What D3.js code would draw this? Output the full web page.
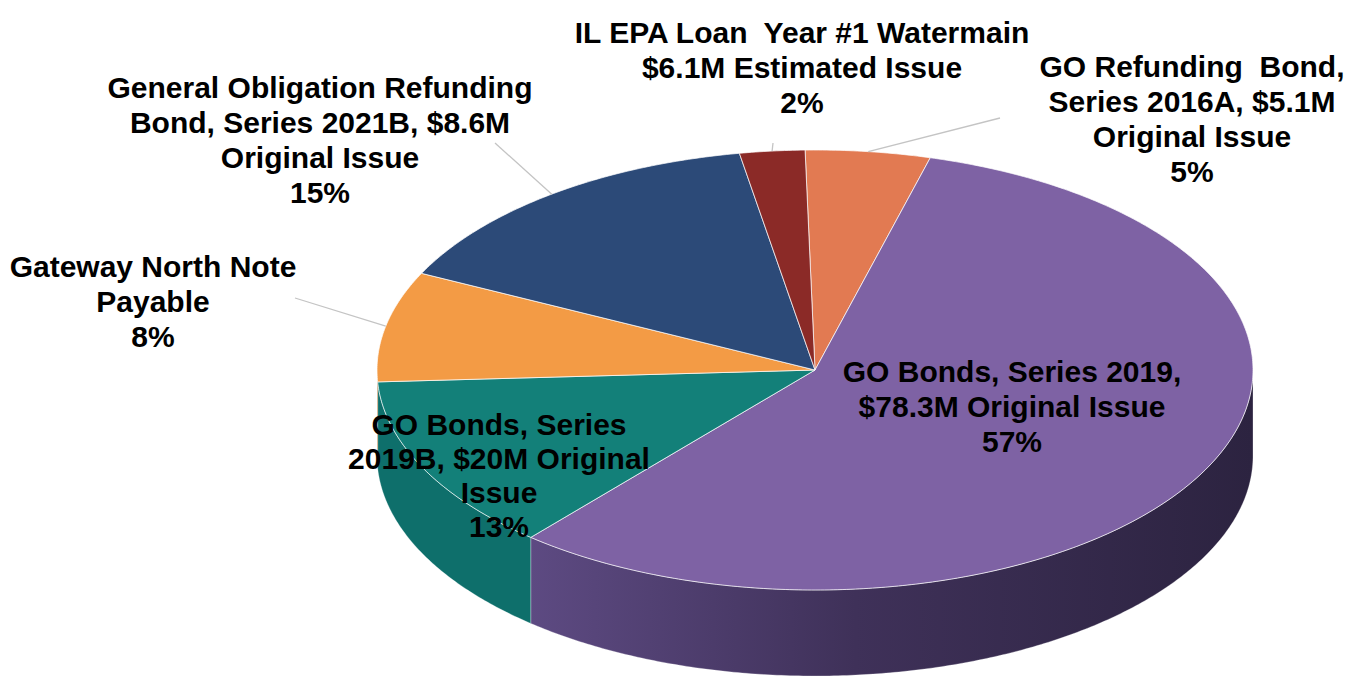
<!DOCTYPE html>
<html>
<head>
<meta charset="utf-8">
<script src="https://cdn.jsdelivr.net/npm/d3@7"></script>
<style>
  body { margin: 0; background: #fff; }
  svg { display: block; }
</style>
</head>
<body>
<svg id="debt-pie"></svg>
<script>
(function() {
    // --- 1. DATA ---
    const categories = [
        "GO Refunding Bond, Series 2016A",
        "GO Bonds, Series 2019",
        "GO Bonds, Series 2019B",
        "Gateway North Note Payable",
        "General Obligation Refunding Bond, Series 2021B",
        "IL EPA Loan Year #1 Watermain"
    ];
    // share of outstanding debt (%)
    const shares = [4.6, 57.0, 12.9, 8.1, 15.0, 2.4];
    const labelLines = [
        ["GO Refunding  Bond,", "Series 2016A, $5.1M", "Original Issue"],
        ["GO Bonds, Series 2019,", "$78.3M Original Issue"],
        ["GO Bonds, Series", "2019B, $20M Original", "Issue"],
        ["Gateway North Note", "Payable"],
        ["General Obligation Refunding", "Bond, Series 2021B, $8.6M", "Original Issue"],
        ["IL EPA Loan  Year #1 Watermain", "$6.1M Estimated Issue"]
    ];

    // --- 2. CONFIG ---
    const width = 1348, height = 679;
    const cx = 815, cy = 370, rx = 438, ry = 220, depth = 86;
    const startAngle = -1.3 * Math.PI / 180;

    const topColors  = ["#e27a52", "#7e62a4", "#138079", "#f39b45", "#2c4a78", "#8b2a27"];
    const sideColors = ["#b25a3a", "url(#purpleSide)", "#0e6f6b", "#c07430", "#1f3658", "#5e1b19"];

    // label anchor (centre x, first baseline), line step, leader start (or null)
    const labelLayout = [
        { x: 1192, y: 77,  step: 35, leader: [1000, 118] },
        { x: 1012, y: 382, step: 35, leader: null },
        { x: 499,  y: 435, step: 34, leader: null },
        { x: 153,  y: 277, step: 35, leader: [295, 298] },
        { x: 320,  y: 98,  step: 35, leader: [495, 143] },
        { x: 802,  y: 43,  step: 35, leader: [773, 143] }
    ];

    const svg = d3.select("#debt-pie")
        .attr("width", width)
        .attr("height", height)
        .attr("viewBox", `0 0 ${width} ${height}`);

    const total = d3.sum(shares);
    const data = shares.map((v, i) => ({ name: categories[i], value: v, i }));

    const arcs = d3.pie()
        .sort(null)
        .value(d => d.value)
        .startAngle(startAngle)
        .endAngle(startAngle + 2 * Math.PI)(data);

    // point on the tilted ellipse, angle clockwise from 12 o'clock
    const pt = (a, dy = 0) => [cx + rx * Math.sin(a), cy - ry * Math.cos(a) + dy];
    const arcPoints = (a0, a1, dy) => {
        const n = Math.max(2, Math.ceil((a1 - a0) / 0.01));
        return d3.range(n + 1).map(k => pt(a0 + (a1 - a0) * k / n, dy));
    };
    const line = d3.line();

    // gradient for the purple wall
    const defs = svg.append("defs");
    const grad = defs.append("linearGradient")
        .attr("id", "purpleSide")
        .attr("gradientUnits", "userSpaceOnUse")
        .attr("x1", cx - rx * 0.65).attr("x2", cx + rx)
        .attr("y1", 0).attr("y2", 0);
    grad.append("stop").attr("offset", "0%").attr("stop-color", "#5d4a82");
    grad.append("stop").attr("offset", "45%").attr("stop-color", "#3f3159");
    grad.append("stop").attr("offset", "100%").attr("stop-color", "#2c2340");

    // --- 3. SIDE WALLS (front half only) ---
    const sides = svg.append("g").attr("class", "sides");
    arcs.forEach(d => {
        const lo = Math.max(d.startAngle, Math.PI / 2);
        const hi = Math.min(d.endAngle, 3 * Math.PI / 2);
        if (lo >= hi) return;
        const pts = arcPoints(lo, hi, 0).concat(arcPoints(lo, hi, depth).reverse());
        sides.append("path")
            .attr("d", line(pts) + "Z")
            .attr("fill", sideColors[d.data.i])
            .attr("stroke", "rgba(255,255,255,0.35)")
            .attr("stroke-width", 0.8);
    });

    // --- 4. TOP FACES ---
    svg.append("g").attr("class", "tops")
        .selectAll("path")
        .data(arcs)
        .join("path")
        .attr("d", d => line([[cx, cy]].concat(arcPoints(d.startAngle, d.endAngle, 0))) + "Z")
        .attr("fill", d => topColors[d.data.i])
        .attr("stroke", "rgba(255,255,255,0.7)")
        .attr("stroke-width", 1)
        .attr("stroke-linejoin", "round");

    // --- 5. LEADER LINES ---
    const leaders = svg.append("g").attr("class", "leaders");
    arcs.forEach(d => {
        const lay = labelLayout[d.data.i];
        if (!lay.leader) return;
        const mid = (d.startAngle + d.endAngle) / 2;
        const end = pt(mid);
        leaders.append("line")
            .attr("x1", lay.leader[0]).attr("y1", lay.leader[1])
            .attr("x2", end[0]).attr("y2", end[1])
            .attr("stroke", "#c4c4c4")
            .attr("stroke-width", 1.3);
    });

    // --- 6. LABELS ---
    const labels = svg.append("g").attr("class", "labels")
        .attr("font-family", "'Liberation Sans', Arial, sans-serif")
        .attr("font-weight", "bold")
        .attr("font-size", "30px")
        .attr("fill", "#000")
        .attr("text-anchor", "middle");

    arcs.forEach(d => {
        const lay = labelLayout[d.data.i];
        const pct = Math.round(d.data.value / total * 100) + "%";
        const lines = labelLines[d.data.i].concat([pct]);
        const t = labels.append("text")
            .attr("x", lay.x)
            .attr("y", lay.y)
            .style("white-space", "pre");
        lines.forEach((s, k) => {
            t.append("tspan")
                .attr("x", lay.x)
                .attr("y", lay.y + k * lay.step)
                .text(s);
        });
    });
})();
</script>
</body>
</html>
